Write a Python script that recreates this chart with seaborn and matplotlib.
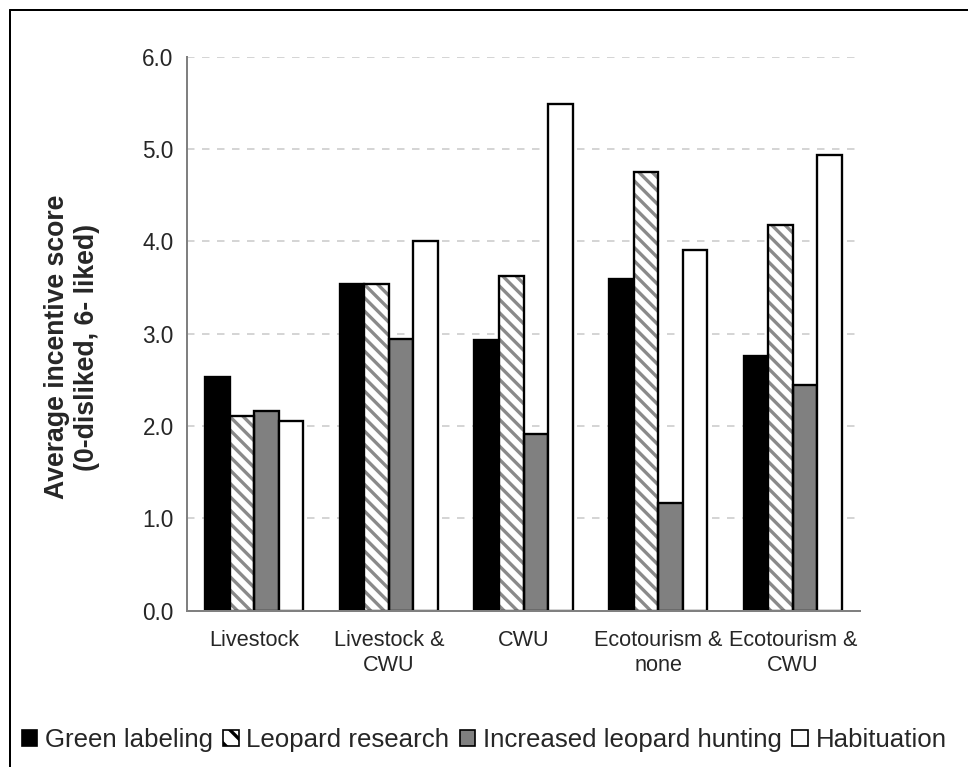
import numpy as np
import pandas as pd
import matplotlib
matplotlib.use('Agg')
import matplotlib.pyplot as plt
import seaborn as sns
from matplotlib.patches import Rectangle, Patch
from matplotlib.lines import Line2D

# data
categories = ["Livestock", "Livestock &\nCWU", "CWU", "Ecotourism &\nnone", "Ecotourism &\nCWU"]
series_names = ["Green labeling", "Leopard research", "Increased leopard hunting", "Habituation"]
green_labeling = [2.53, 3.54, 2.93, 3.59, 2.76]
leopard_research = [2.11, 3.54, 3.63, 4.75, 4.18]
increased_hunting = [2.16, 2.94, 1.91, 1.17, 2.44]
habituation = [2.05, 4.00, 5.49, 3.91, 4.94]
series_colors = ["#000000", "#ffffff", "#808080", "#ffffff"]

df = pd.DataFrame({
    "category": categories * 4,
    "series": np.repeat(series_names, len(categories)),
    "score": green_labeling + leopard_research + increased_hunting + habituation,
})

sns.set_style("white")
plt.rcParams["font.family"] = ["Liberation Sans", "DejaVu Sans"]
plt.rcParams["hatch.linewidth"] = 2.0

DPI = 120
fig = plt.figure(figsize=(968 / DPI, 767 / DPI), dpi=DPI)
ax = fig.add_axes([187 / 968, 1 - 610.5 / 767, 673 / 968, (610.5 - 57) / 767])

sns.barplot(data=df, x="category", y="score", hue="series", order=categories,
            hue_order=series_names, palette=series_colors, saturation=1,
            width=0.73, edgecolor="black", linewidth=1.4, legend=False, ax=ax)

# hatched series: gray stripes, black outline drawn on top
for p in ax.containers[1].patches:
    p.set_facecolor("white")
    p.set_edgecolor("#8a8a8a")
    p.set_linewidth(0)
    p.set_hatch("\\\\\\")
    ax.add_patch(Rectangle(p.get_xy(), p.get_width(), p.get_height(), fill=False,
                           edgecolor="black", linewidth=1.4, zorder=p.get_zorder() + 0.1))

ax.set_xlim(-0.5, len(categories) - 0.5)
ax.set_ylim(0, 6)
ax.set_yticks(np.arange(0, 6.1, 1.0))
ax.set_yticklabels([f"{v:.1f}" for v in np.arange(0, 6.1, 1.0)])
ax.yaxis.grid(True, linestyle=(0, (5, 5)), color="#c8c8c8", linewidth=0.9)
ax.set_axisbelow(True)

for s in ["top", "right"]:
    ax.spines[s].set_visible(False)
for s in ["left", "bottom"]:
    ax.spines[s].set_color("#808080")
    ax.spines[s].set_linewidth(1.2)

ax.set_xlabel("")
ax.set_ylabel("")
ax.set_xticks(np.arange(-0.5, len(categories), 1.0), minor=True)
ax.tick_params(axis="x", which="major", length=0, pad=12, labelsize=13)
ax.tick_params(axis="x", which="minor", length=5, color="#808080", width=1.2, direction="out")
ax.tick_params(axis="y", length=4, color="#808080", width=1.2, direction="out", labelsize=13.5, pad=4)

fig.text(72 / 968, 1 - 347 / 767, "Average incentive score\n(0-disliked, 6- liked)",
         rotation=90, ha="center", va="center", fontsize=16, fontweight="bold")

handles = [Patch(facecolor=c, edgecolor="black", linewidth=1.0,
                 hatch=("\\\\" if i == 1 else None)) for i, c in enumerate(series_colors)]
fig.legend(handles, series_names, loc="center", bbox_to_anchor=(0.5, 1 - 740 / 767),
           ncol=4, frameon=False, fontsize=15.5, handlelength=0.6, handleheight=0.6,
           handletextpad=0.3, columnspacing=0.4, borderaxespad=0)

# frame around the figure (top and left edges visible in the reference)
fig.add_artist(Line2D([10 / 968, 10 / 968], [0, 1 - 10 / 767], transform=fig.transFigure,
                      color="black", linewidth=1.2))
fig.add_artist(Line2D([10 / 968, 1], [1 - 10 / 767, 1 - 10 / 767], transform=fig.transFigure,
                      color="black", linewidth=1.2))

fig.savefig("out.png", dpi=DPI)
